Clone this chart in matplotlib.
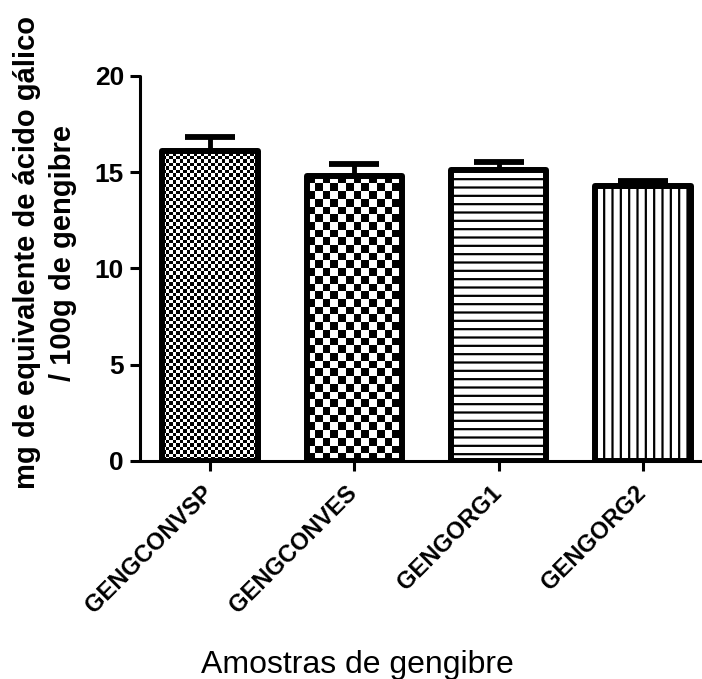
import numpy as np
import matplotlib
matplotlib.use("Agg")
import matplotlib.pyplot as plt
from matplotlib.transforms import ScaledTranslation

plt.rcParams['font.family'] = ['Liberation Sans', 'DejaVu Sans']
plt.rcParams['hatch.linewidth'] = 1.6

# -----------------------------------------------------------
#   Dados
# -----------------------------------------------------------
amostras = ["GENGCONVSP", "GENGCONVES", "GENGORG1", "GENGORG2"]
medias = [16.1, 14.77, 15.08, 14.25]
erros = [0.70, 0.67, 0.46, 0.28]
y_ticks = [0, 5, 10, 15, 20]

# padrão de cada barra: (tipo, tamanho da célula em px)
padroes = [("xadrez", 3.5), ("xadrez", 7.7), ("hatch", "--"), ("hatch", "||")]

fig = plt.figure(figsize=(7.02, 6.79), dpi=100)
ax = fig.add_axes([140 / 702, 1 - 461 / 679, 573 / 702, 385.3 / 679])

x = np.arange(len(amostras))
ax.set_xlim(-0.485, len(amostras) - 1 + 0.485)
ax.set_ylim(0, 20)

bars = ax.bar(x, medias, width=0.66, color="white", edgecolor="black",
              linewidth=4.3, zorder=3)

for bar, (tipo, p) in zip(bars, padroes):
    bar.set_joinstyle("round")
    if tipo == "hatch":
        bar.set_hatch(p)
        continue
    # xadrez desenhado como imagem recortada pela barra
    bar.set_facecolor("none")
    x0, y0 = bar.get_x(), bar.get_y()
    x1, y1 = x0 + bar.get_width(), y0 + bar.get_height()
    (px0, py0), (px1, py1) = ax.transData.transform([(x0, y0), (x1, y1)])
    nx = int(np.ceil((px1 - px0) / p)) + 1
    ny = int(np.ceil((py1 - py0) / p)) + 1
    img = (np.add.outer(np.arange(ny), np.arange(nx)) % 2).astype(float)
    (ex0, ey0), (ex1, ey1) = ax.transData.inverted().transform(
        [(px0, py0), (px0 + nx * p, py0 + ny * p)])
    im = ax.imshow(img, cmap="gray", interpolation="nearest", origin="lower",
                   extent=[ex0, ex1, ey0, ey1], aspect="auto", zorder=2.5)
    im.set_clip_path(bar)

ax.set_xlim(-0.485, len(amostras) - 1 + 0.485)
ax.set_ylim(0, 20)

ax.errorbar(x, medias, yerr=[np.zeros(len(erros)), erros], fmt="none",
            ecolor="black", elinewidth=3.5, capsize=18, capthick=4.2, zorder=4)

for s in ["top", "right"]:
    ax.spines[s].set_visible(False)
for s in ["left", "bottom"]:
    ax.spines[s].set_linewidth(2.2)
    ax.spines[s].set_capstyle("round")

ax.set_yticks(y_ticks)
ax.set_yticklabels([str(v) for v in y_ticks], fontsize=19, fontweight="bold")
ax.set_xticks(x)
ax.set_xticklabels(amostras, fontsize=17, fontweight="bold", rotation=45,
                   ha="right", rotation_mode="anchor")
ax.tick_params(axis="both", direction="out", length=7.5, width=2.2, pad=4)
ax.tick_params(axis="x", pad=7)
desloc = ScaledTranslation(-0.09, 0, fig.dpi_scale_trans)
for lbl in ax.get_xticklabels():
    lbl.set_transform(lbl.get_transform() + desloc)

ax.set_xlabel("Amostras de gengibre", fontsize=23)
ax.xaxis.set_label_coords(0.38, -0.49)

ax.set_ylabel("mg de equivalente de ácido gálico\n/ 100g de gengibre",
              fontsize=21, fontweight="bold", linespacing=1.35)
ax.yaxis.set_label_coords(-0.11, 0.54)

fig.savefig("out.png", dpi=100)
